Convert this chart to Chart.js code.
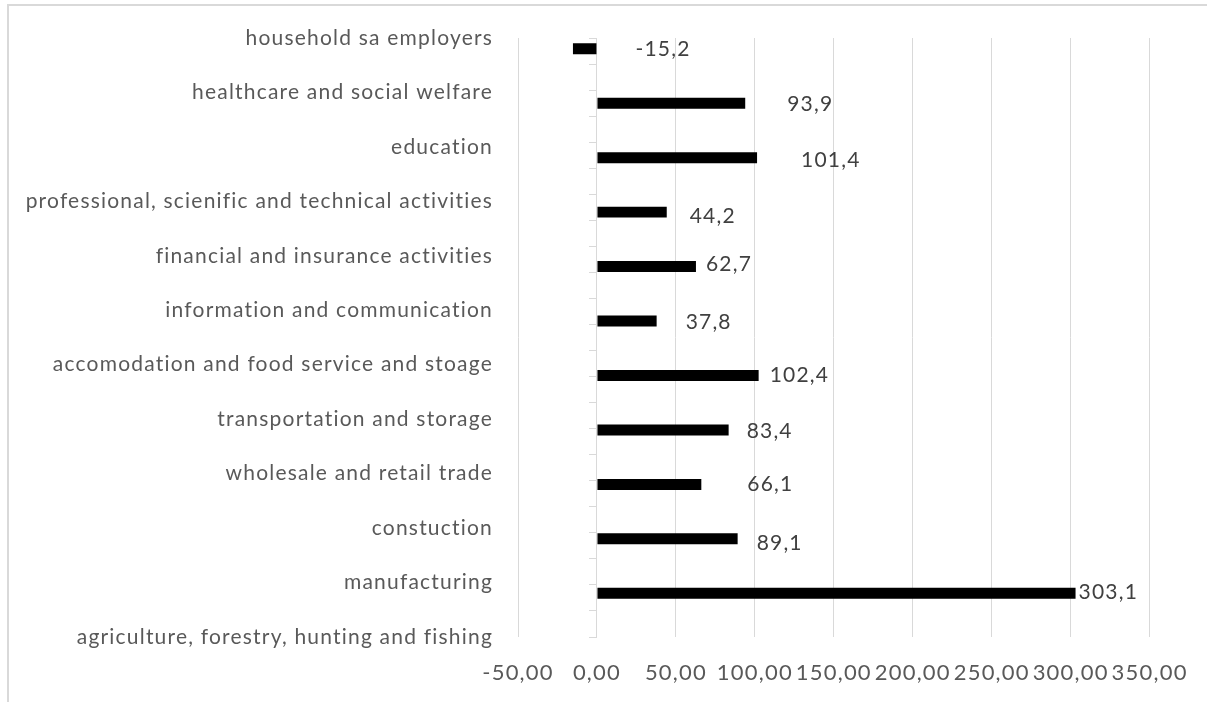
<!DOCTYPE html>
<html>
<head>
<meta charset="utf-8">
<script src="https://cdn.jsdelivr.net/npm/chart.js@4"></script>
<style>
  html, body { margin: 0; padding: 0; background: #fff; overflow: hidden; }
  #frame { position: absolute; left: 7px; top: 4px; width: 1400px; height: 900px; border: 2px solid #d9d9d9; }
  #wrap { position: absolute; left: 0; top: 0; width: 1207px; height: 702px; }
</style>
</head>
<body>
<div id="frame"></div>
<div id="wrap"><canvas id="c" width="1207" height="702"></canvas></div>
<script>
// ---- data ----
const categories = [
  'household sa employers',
  'healthcare and social welfare',
  'education',
  'professional, scienific and technical activities',
  'financial and insurance activities',
  'information and communication',
  'accomodation and food service and stoage',
  'transportation and storage',
  'wholesale and retail trade',
  'constuction',
  'manufacturing',
  'agriculture, forestry, hunting and fishing'
];
const values = [-15.2, 93.9, 101.4, 44.2, 62.7, 37.8, 102.4, 83.4, 66.1, 89.1, 303.1, null];
const xMin = -50;
const xMax = 350;
const xStep = 50;

// ---- presentation (label nudges, px) ----
const labelDx = [39, 42, 44, 23, 10, 29, 11, 18, 46, 19, 3, 0];
const labelDy = [0, 1, 3, 4, -2, 1, 0, 1, 0, 4, -1, 0];

const fmt1 = v => v.toFixed(1).replace('.', ',');
const fmt2 = v => Number(v).toFixed(2).replace('.', ',');

const spacing = {
  id: 'spacing',
  beforeDraw(chart) { chart.ctx.letterSpacing = '1.2px'; }
};

const valueLabels = {
  id: 'valueLabels',
  afterDatasetsDraw(chart) {
    const meta = chart.getDatasetMeta(1);
    const ctx = chart.ctx;
    ctx.save();
    ctx.letterSpacing = '1.2px';
    ctx.font = '21px Lato';
    ctx.fillStyle = '#404040';
    ctx.textAlign = 'left';
    ctx.textBaseline = 'middle';
    meta.data.forEach((bar, i) => {
      const v = values[i];
      if (v === null || v === undefined) return;
      const end = Math.max(bar.x, bar.base);
      ctx.fillText(fmt1(v), end + labelDx[i], bar.y + labelDy[i]);
    });
    ctx.restore();
  }
};

new Chart(document.getElementById('c'), {
  type: 'bar',
  data: {
    labels: categories,
    datasets: [
      { label: 'spacer', data: categories.map(() => null), backgroundColor: 'rgba(0,0,0,0)' },
      { label: 'value', data: values, backgroundColor: '#000000', borderWidth: 0 }
    ]
  },
  options: {
    indexAxis: 'y',
    responsive: false,
    animation: false,
    devicePixelRatio: 1,
    categoryPercentage: 0.79,
    barPercentage: 0.51,
    layout: { padding: { left: 0, right: 56, top: 38, bottom: 0 } },
    plugins: { legend: { display: false }, tooltip: { enabled: false }, title: { display: false } },
    scales: {
      x: {
        type: 'linear',
        min: xMin, max: xMax,
        ticks: {
          stepSize: xStep, autoSkip: false, maxRotation: 0,
          color: '#595959', font: { family: 'Lato', size: 22 }, padding: 23,
          callback: v => fmt2(v)
        },
        grid: { color: '#d9d9d9', lineWidth: 1, drawTicks: false },
        border: { display: false },
        afterFit: s => { s.height = 65; }
      },
      y: {
        type: 'category',
        offset: false,
        ticks: { autoSkip: false, color: '#595959', font: { family: 'Lato', size: 21 }, padding: 25 },
        grid: { display: false, drawTicks: false },
        border: { display: false },
        afterFit: s => { s.width = 518; }
      },
      y2: {
        type: 'linear',
        axis: 'y',
        position: { x: 0 },
        min: 0, max: 22,
        ticks: { display: false, stepSize: 1, maxTicksLimit: 100 },
        grid: { drawOnChartArea: false, drawTicks: true, tickLength: 7, color: '#d9d9d9' },
        border: { display: true, color: '#d9d9d9' },
        afterFit: s => { s.width = 0; }
      }
    }
  },
  plugins: [spacing, valueLabels]
});
</script>
</body>
</html>
